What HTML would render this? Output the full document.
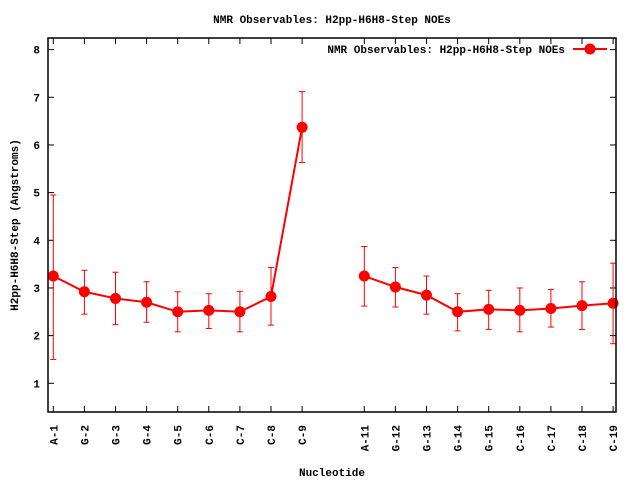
<!DOCTYPE html>
<html><head><meta charset="utf-8"><style>body{margin:0;background:#fff}svg{display:block}text{font-family:"Liberation Mono",monospace;font-weight:bold;font-size:11px;fill:#000}</style></head>
<body>
<svg id="s" width="640" height="480" xmlns="http://www.w3.org/2000/svg">
<rect width="640" height="480" fill="#fff"/>
<text x="332" y="23" text-anchor="middle">NMR Observables: H2pp-H6H8-Step NOEs</text>
<text x="332" y="476" text-anchor="middle">Nucleotide</text>
<text transform="translate(18,225) rotate(-90)" text-anchor="middle">H2pp-H6H8-Step (Angstroms)</text>
<text x="565" y="53" text-anchor="end">NMR Observables: H2pp-H6H8-Step NOEs</text>
<line x1="573" y1="49" x2="607" y2="49" stroke="#f00" stroke-width="2"/>
<circle cx="590" cy="49" r="5.5" fill="#f00"/>
<g id="g"></g>
<rect x="48" y="38" width="568" height="374" fill="none" stroke="#000" stroke-width="1.5"/>
</svg>
<script>
var g=document.getElementById('g'),h='';
function X(i){return 53.3+(i-1)*31.1}
function Y(v){return 383.3-(v-1)*47.67}
for(var v=1;v<=8;v++){var y=Y(v);h+='<line x1="48" y1="'+y+'" x2="54" y2="'+y+'" stroke="#000"/><line x1="610" y1="'+y+'" x2="616" y2="'+y+'" stroke="#000"/><text x="40" y="'+(y+4)+'" text-anchor="end">'+v+'</text>';}
var names={1:'A-1',2:'G-2',3:'G-3',4:'G-4',5:'G-5',6:'C-6',7:'C-7',8:'C-8',9:'C-9',11:'A-11',12:'G-12',13:'G-13',14:'G-14',15:'G-15',16:'C-16',17:'C-17',18:'C-18',19:'C-19'};
for(var k in names){var x=X(+k);h+='<line x1="'+x+'" y1="412" x2="'+x+'" y2="406" stroke="#000"/><line x1="'+x+'" y1="38" x2="'+x+'" y2="44" stroke="#000"/><text transform="translate('+(x+4)+',425) rotate(-90)" text-anchor="end">'+names[k]+'</text>';}
var d=[[1,3.25,1.5,4.95],[2,2.92,2.45,3.37],[3,2.78,2.23,3.33],[4,2.70,2.28,3.13],[5,2.50,2.08,2.92],[6,2.53,2.15,2.88],[7,2.50,2.08,2.93],[8,2.82,2.22,3.43],[9,6.37,5.63,7.12],[11,3.25,2.62,3.87],[12,3.02,2.60,3.43],[13,2.85,2.45,3.25],[14,2.50,2.10,2.88],[15,2.55,2.13,2.95],[16,2.53,2.08,3.00],[17,2.57,2.18,2.97],[18,2.63,2.13,3.13],[19,2.68,1.83,3.52]];
var p1='',p2='';
d.forEach(function(r){var x=X(r[0]);h+='<line x1="'+x+'" y1="'+Y(r[2])+'" x2="'+x+'" y2="'+Y(r[3])+'" stroke="#f00"/><line x1="'+(x-3)+'" y1="'+Y(r[2])+'" x2="'+(x+3)+'" y2="'+Y(r[2])+'" stroke="#f00"/><line x1="'+(x-3)+'" y1="'+Y(r[3])+'" x2="'+(x+3)+'" y2="'+Y(r[3])+'" stroke="#f00"/>';
if(r[0]<10)p1+=x+','+Y(r[1])+' ';else p2+=x+','+Y(r[1])+' ';});
h+='<polyline points="'+p1+'" fill="none" stroke="#f00" stroke-width="2"/><polyline points="'+p2+'" fill="none" stroke="#f00" stroke-width="2"/>';
d.forEach(function(r){h+='<circle cx="'+X(r[0])+'" cy="'+Y(r[1])+'" r="5.5" fill="#f00"/>';});
g.innerHTML=h;
</script>
</body></html>
